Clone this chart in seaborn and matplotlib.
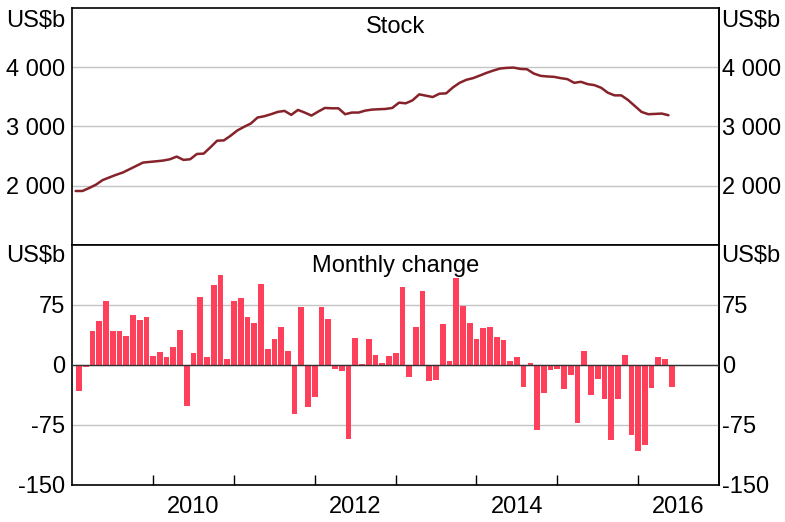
import numpy as np
import pandas as pd
import matplotlib
matplotlib.use('Agg')
import matplotlib.pyplot as plt
import matplotlib.ticker as mticker
import seaborn as sns

# 월별 데이터 2009-01 ~ 2016-05 (US$b)
stock = [1911, 1911, 1961, 2017, 2095, 2140, 2184, 2223, 2279, 2335,
         2391, 2402, 2413, 2425, 2447, 2492, 2436, 2447, 2536, 2542,
         2648, 2760, 2765, 2844, 2933, 2994, 3050, 3151, 3173, 3207,
         3246, 3263, 3196, 3279, 3235, 3184, 3251, 3313, 3307, 3307,
         3207, 3235, 3235, 3268, 3285, 3291, 3296, 3313, 3402, 3391,
         3441, 3542, 3520, 3497, 3553, 3559, 3659, 3737, 3788, 3816,
         3860, 3905, 3944, 3978, 3989, 3994, 3972, 3966, 3894, 3855,
         3844, 3838, 3816, 3799, 3737, 3754, 3715, 3698, 3654, 3570,
         3525, 3525, 3447, 3346, 3246, 3207, 3212, 3218, 3190]

change = [-33, -2, 42, 55, 80, 42, 43, 36, 62, 56,
          60, 11, 16, 10, 22, 44, -51, 15, 85, 10,
          100, 112, 7, 80, 84, 60, 53, 101, 20, 32,
          48, 17, -61, 72, -53, -40, 72, 57, -5, -7,
          -92, 34, 1, 33, 12, 3, 11, 15, 98, -15,
          47, 92, -20, -19, 51, 5, 109, 74, 53, 32,
          46, 47, 35, 31, 5, 10, -27, 3, -81, -35,
          -6, -5, -30, -12, -72, 18, -37, -17, -43, -94,
          -43, 12, -87, -108, -100, -29, 10, 8, -28]

start_year = 2009
year_labels = [2010, 2012, 2014, 2016]

line_color = '#862229'
bar_color = '#FF405A'
fs = 17

months = start_year + np.arange(len(stock)) / 12
df_stock = pd.DataFrame({'date': months + 0.5 / 12, 'stock': stock})
df_change = pd.DataFrame({'date': months + 1 / 12, 'change': change})

sns.set_theme(style='white')
plt.rcParams['font.family'] = ['Liberation Sans', 'DejaVu Sans']
plt.rcParams['axes.unicode_minus'] = False
plt.rcParams['text.color'] = 'black'
plt.rcParams['xtick.color'] = 'black'
plt.rcParams['ytick.color'] = 'black'

fig = plt.figure(figsize=(7.85, 5.22), dpi=100)
ax1 = fig.add_axes([0.0921, 0.5307, 0.8238, 0.454])
ax2 = fig.add_axes([0.0921, 0.0709, 0.8238, 0.4598])

sns.lineplot(data=df_stock, x='date', y='stock', ax=ax1, color=line_color, lw=1.8)
sns.barplot(data=df_change, x='date', y='change', ax=ax2, native_scale=True,
            width=0.85, color=bar_color, saturation=1, linewidth=0, errorbar=None)
ax2.axhline(0, color='#333333', lw=1, zorder=3)

thousands = mticker.FuncFormatter(lambda v, p: f'{v:,.0f}'.replace(',', ' '))
panels = [
    (ax1, (1000, 5000), [2000, 3000, 4000], 'Stock', 0.896, 0.92),
    (ax2, (-150, 150), [-150, -75, 0, 75], 'Monthly change', 0.889, 0.93),
]
for ax, lim, ticks, title, ty, uy in panels:
    ax.set_xlim(start_year, start_year + 8)
    ax.set_ylim(*lim)
    ax.set_xlabel('')
    ax.set_ylabel('')
    ax.set_yticks(ticks)
    ax.yaxis.set_major_formatter(thousands)
    ax.yaxis.grid(True, color='#C4C4C4', lw=1)
    ax.set_axisbelow(True)
    ax.tick_params(axis='y', length=0, labelsize=fs, pad=5)
    for s in ax.spines.values():
        s.set_color('black')
        s.set_linewidth(1.2)
    sec = ax.secondary_yaxis('right')
    sec.set_yticks(ticks)
    sec.yaxis.set_major_formatter(thousands)
    sec.tick_params(axis='y', length=0, labelsize=fs, pad=2)
    sec.spines['right'].set_linewidth(1.2)
    sec.spines['right'].set_color('black')

    ax.xaxis.set_major_locator(mticker.FixedLocator(range(start_year + 1, start_year + 8)))
    ax.xaxis.set_major_formatter(mticker.NullFormatter())
    ax.xaxis.set_minor_locator(mticker.FixedLocator([y + 0.5 for y in year_labels]))
    ax.xaxis.set_minor_formatter(mticker.FuncFormatter(lambda v, p: str(int(v))))

    ax.text(0.5, ty, title, transform=ax.transAxes, ha='center', va='baseline', fontsize=fs)
    ax.text(-0.0113, uy, 'US$b', transform=ax.transAxes, ha='right', va='baseline', fontsize=fs)
    ax.text(1.004, uy, 'US$b', transform=ax.transAxes, ha='left', va='baseline', fontsize=fs)

ax1.tick_params(axis='x', which='both', length=0, labelbottom=False)
ax2.tick_params(axis='x', which='major', direction='in', length=7, width=1, color='black', bottom=True)
ax2.tick_params(axis='x', which='minor', length=0, labelsize=fs, pad=8)

fig.savefig('out.png', dpi=100)
